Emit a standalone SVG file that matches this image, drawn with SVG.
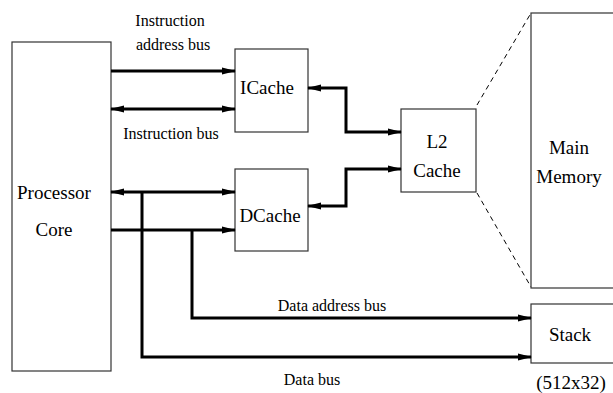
<svg xmlns="http://www.w3.org/2000/svg" width="613" height="393" viewBox="0 0 613 393">
<style>
.box{fill:#fff;stroke:#333;stroke-width:1.2}
.lbl{font-family:'Liberation Serif','Times New Roman',Times,serif;font-size:19px;fill:#000;text-anchor:middle}
.bus{font-family:'Liberation Serif','Times New Roman',Times,serif;font-size:16px;fill:#000;text-anchor:middle}
.wire{fill:none;stroke:#000;stroke-width:3}
.dash{fill:none;stroke:#000;stroke-width:1;stroke-dasharray:5,4}
</style>
<defs>
<marker id="ah" markerUnits="userSpaceOnUse" markerWidth="14" markerHeight="8" refX="13" refY="4" orient="auto-start-reverse">
<path d="M0,0.5 L14,4 L0,7.5 z" fill="#000"/>
</marker>
</defs>
<rect width="613" height="393" fill="#fff"/>
<g id="processor">
<rect class="box" x="12" y="42" width="99" height="329"/>
<text class="lbl" x="54" y="199">Processor</text>
<text class="lbl" x="54" y="236">Core</text>
</g>
<g id="icache">
<rect class="box" x="235" y="49" width="73" height="83"/>
<text class="lbl" x="267" y="94">ICache</text>
</g>
<g id="dcache">
<rect class="box" x="235" y="169" width="73" height="82"/>
<text class="lbl" x="270" y="222">DCache</text>
</g>
<g id="l2cache">
<rect class="box" x="401" y="109" width="75" height="83"/>
<text class="lbl" x="437" y="148">L2</text>
<text class="lbl" x="437" y="177">Cache</text>
</g>
<g id="mainmemory">
<rect class="box" x="531" y="13" width="100" height="275"/>
<text class="lbl" x="569" y="154">Main</text>
<text class="lbl" x="569" y="183">Memory</text>
</g>
<g id="stack">
<rect class="box" x="531" y="304" width="100" height="59"/>
<text class="lbl" x="570" y="341">Stack</text>
<text class="lbl" x="571" y="389">(512x32)</text>
</g>
<g id="connectors">
<path class="wire" d="M111,71 H235" marker-end="url(#ah)"/>
<path class="wire" d="M111,109 H235" marker-start="url(#ah)" marker-end="url(#ah)"/>
<path class="wire" d="M308,88 H346 V132 H401" marker-start="url(#ah)" marker-end="url(#ah)"/>
<path class="wire" d="M308,206 H346 V169 H401" marker-start="url(#ah)" marker-end="url(#ah)"/>
<path class="wire" d="M111,192 H235" marker-start="url(#ah)" marker-end="url(#ah)"/>
<path class="wire" d="M111,230 H235" marker-end="url(#ah)"/>
<path class="wire" d="M142,192 V357 H531" marker-end="url(#ah)"/>
<path class="wire" d="M192,230 V318 H531" marker-end="url(#ah)"/>
<path class="dash" d="M477,105 L531,13"/>
<path class="dash" d="M477,193 L531,287"/>
</g>
<g id="labels">
<text class="bus" x="170" y="26">Instruction</text>
<text class="bus" x="173" y="50">address bus</text>
<text class="bus" x="171" y="139">Instruction bus</text>
<text class="bus" x="332" y="311">Data address bus</text>
<text class="bus" x="312" y="385">Data bus</text>
</g>
</svg>
